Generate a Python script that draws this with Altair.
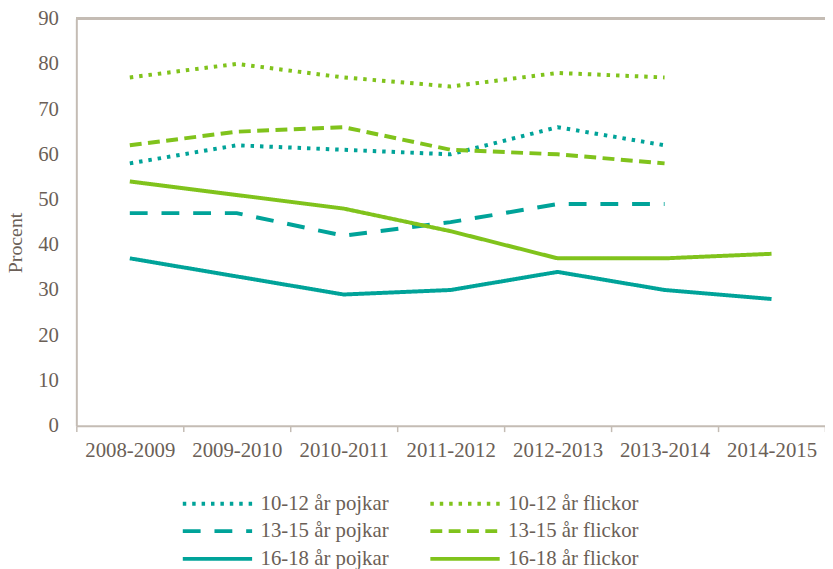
import altair as alt
import pandas as pd

periods = ["2008-2009", "2009-2010", "2010-2011", "2011-2012", "2012-2013", "2013-2014", "2014-2015"]
series = ["10-12 år pojkar", "10-12 år flickor", "13-15 år pojkar", "13-15 år flickor",
          "16-18 år pojkar", "16-18 år flickor"]

p1012 = [58, 62, 61, 60, 66, 62, None]
f1012 = [77, 80, 77, 75, 78, 77, None]
p1315 = [47, 47, 42, 45, 49, 49, None]
f1315 = [62, 65, 66, 61, 60, 58, None]
p1618 = [37, 33, 29, 30, 34, 30, 28]
f1618 = [54, 51, 48, 43, 37, 37, 38]

TEAL = "#00a399"
GREEN = "#80c31c"
TEXT = "#6b5f57"
AXIS = "#c4bcb4"
GRID = "#ebe7e3"

colors = [TEAL, GREEN, TEAL, GREEN, TEAL, GREEN]
dashes = [[3.5, 6], [3.5, 6], [18, 14], [12, 6.5], [1, 0], [1, 0]]

rows = []
for name, vals in zip(series, [p1012, f1012, p1315, f1315, p1618, f1618]):
    for per, v in zip(periods, vals):
        if v is not None:
            rows.append({"period": per, "series": name, "value": v})
df = pd.DataFrame(rows)

legend_props = dict(
    title=None, orient="none", legendX=132, legendY=479, columns=2, direction="horizontal",
    symbolType="M-5,0L5,0", symbolSize=196, symbolStrokeWidth=4,
    labelFontSize=21, labelColor=TEXT, labelFont="Liberation Serif",
    labelOffset=33, columnPadding=33, rowPadding=6, padding=0,
)

lines = alt.Chart(df).mark_line(strokeWidth=4).encode(
    x=alt.X("period:N", sort=periods, bandPosition=0.5,
            scale=alt.Scale(type="band", paddingInner=0, paddingOuter=0),
            axis=alt.Axis(title=None, labelAngle=0, ticks=True, tickBand="extent",
                          tickSize=6, tickColor=AXIS, tickWidth=1.5,
                          domainColor=AXIS, domainWidth=2, labelPadding=8,
                          labelFontSize=21, labelColor=TEXT, grid=False)),
    y=alt.Y("value:Q", scale=alt.Scale(domain=[0, 90]),
            axis=alt.Axis(title="Procent", values=list(range(0, 91, 10)), ticks=False,
                          labelPadding=18, labelFontSize=21, labelColor=TEXT,
                          titleFontSize=20, titleFontWeight="normal", titleColor=TEXT,
                          titleX=-51, titleY=226, titleAngle=270,
                          domainColor=AXIS, domainWidth=2,
                          gridColor=GRID, gridWidth=1.5)),
    color=alt.Color("series:N", scale=alt.Scale(domain=series, range=colors),
                    legend=alt.Legend(**legend_props)),
    strokeDash=alt.StrokeDash("series:N", scale=alt.Scale(domain=series, range=dashes),
                              legend=alt.Legend(**legend_props)),
)

top = alt.Chart(df).mark_rule(color=AXIS, strokeWidth=2).encode(y=alt.datum(90))

chart = alt.layer(top, lines).properties(
    width=756, height=411,
    autosize=alt.AutoSizeParams(type="none"),
    padding={"left": 69, "top": 8, "right": 0, "bottom": 143},
).configure(font="Liberation Serif").configure_view(stroke=None)

chart.save("out.html", embed_options={"renderer": "svg", "actions": False})
